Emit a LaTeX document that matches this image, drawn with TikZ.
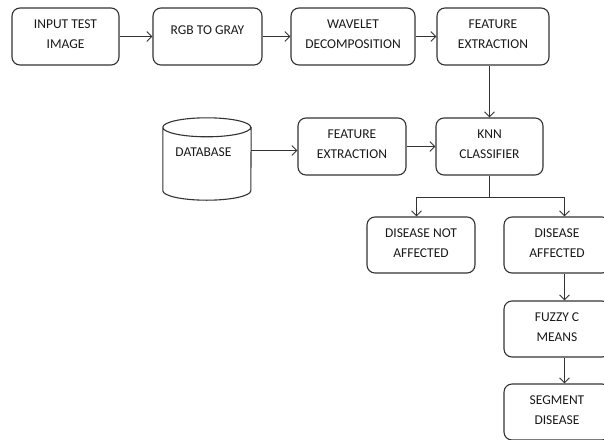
\documentclass[tikz,border=0pt]{standalone}
\usepackage{fontspec}
\setmainfont{Carlito}
\usetikzlibrary{arrows.meta,calc}
\tikzset{
  box/.style={draw=black!80, line width=1.1pt, rounded corners=8pt, align=center,
    minimum height=57pt, inner sep=2pt, font=\fontsize{13.5}{20}\selectfont, text=black!90},
  arr/.style={draw=black!80, line width=1.1pt, -{Straight Barb[length=5pt,width=10pt,line width=0.9pt]}},
  ln/.style={draw=black!80, line width=1.1pt}
}
\newcommand{\up}[2]{\raisebox{#1}[\height][\depth]{#2}}
\begin{document}
\begin{tikzpicture}[x=1pt,y=-1pt]
\useasboundingbox (0,0) rectangle (604,439);
\clip (0,0) rectangle (604,439);
\node[box, minimum width=107pt] (b1) at (65.5,36.5) {\up{2pt}{INPUT TEST}\\\up{2pt}{IMAGE}};
\node[box, minimum width=109pt] (b2) at (207.5,36.5) {\up{6pt}{RGB TO GRAY}};
\node[box, minimum width=124pt] (b3) at (353,36.5) {\up{2pt}{WAVELET}\\\up{2pt}{DECOMPOSITION}};
\node[box, minimum width=112pt] (b4) at (493,36.5) {\up{2pt}{FEATURE}\\\up{2pt}{EXTRACTION}};
\node[box, minimum width=108pt] (fe) at (352,146.5) {\up{2pt}{FEATURE}\\\up{2pt}{EXTRACTION}};
\node[box, minimum width=107pt] (knn) at (489.5,146.5) {\up{2pt}{KNN}\\\up{2pt}{CLASSIFIER}};
\node[box, minimum width=108pt, minimum height=56pt] (dna) at (421,245) {\up{2pt}{DISEASE NOT}\\\up{2pt}{AFFECTED}};
\node[box, minimum width=106pt, minimum height=56pt] (da) at (557,245) {\up{2pt}{DISEASE}\\\up{2pt}{AFFECTED}};
\node[box, minimum width=106pt, minimum height=56pt] (fcm) at (557,329) {\up{2pt}{FUZZY C}\\\up{2pt}{MEANS}};
\node[box, minimum width=106pt, minimum height=56pt] (sd) at (557,412) {\up{2pt}{SEGMENT}\\\up{2pt}{DISEASE}};
% database cylinder
\node[minimum width=88pt, minimum height=82pt, inner sep=0pt, font=\fontsize{13.5}{20}\selectfont, text=black!90] (db) at (207,159) {\hspace*{-7pt}\up{7pt}{DATABASE}};
\draw[ln] (db.north west) ++(0,9.5) arc[start angle=180, end angle=360, x radius=44pt, y radius=9.5pt]
  arc[start angle=0, end angle=180, x radius=44pt, y radius=9.5pt] -- ($(db.south west)+(0,-9.5)$)
  arc[start angle=180, end angle=360, x radius=44pt, y radius=9.5pt] -- ($(db.north east)+(0,9.5)$);
% connectors
\draw[arr] (b1) -- (b2);
\draw[arr] (b2) -- (b3);
\draw[arr] (b3) -- (b4);
\draw[arr] (knn.north |- b4.south) -- (knn.north);
\draw[arr] (db.east |- 0,150.5) -- (fe.west |- 0,150.5);
\draw[arr] (fe) -- (knn);
\coordinate (split) at ($(knn.south)+(0,21.5)$);
\coordinate (lt) at ($(dna.north)+(-4.5,0)$);
\coordinate (rt) at ($(da.north)+(7.5,0)$);
\draw[ln] (knn.south) -- (split);
\draw[arr] (split) -| (lt);
\draw[arr] (split) -| (rt);
\draw[arr] (rt |- da.south) -- (rt |- fcm.north);
\draw[arr] (rt |- fcm.south) -- (rt |- sd.north);
\end{tikzpicture}
\end{document}
